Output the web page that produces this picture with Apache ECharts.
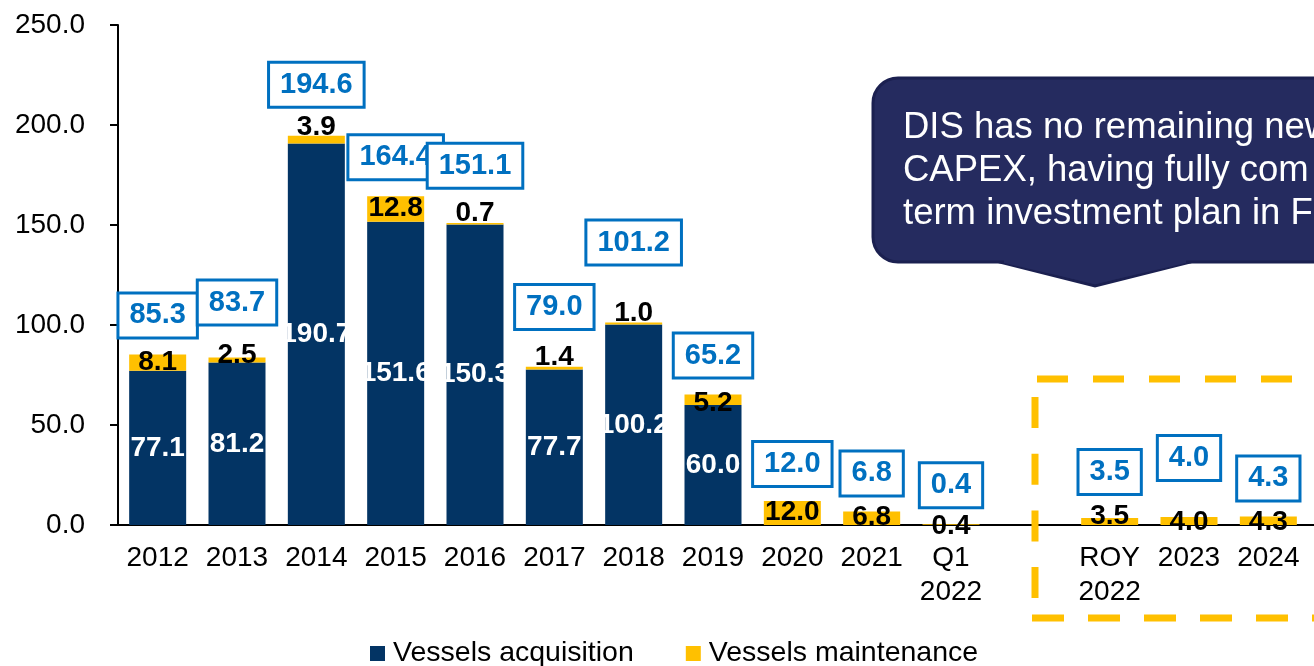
<!DOCTYPE html>
<html>
<head>
<meta charset="utf-8">
<script src="https://cdn.jsdelivr.net/npm/echarts@6/dist/echarts.min.js"></script>
<style>
  html, body { margin: 0; padding: 0; background: #fff; }
  #chart { width: 1314px; height: 666px; }
</style>
</head>
<body>
<div id="chart"></div>
<script>
// categories (one empty slot between actuals and the forecast box)
const categories = ['2012', '2013', '2014', '2015', '2016', '2017', '2018', '2019', '2020', '2021', 'Q1\n2022', '', 'ROY\n2022', '2023', '2024'];
const acquisition = [77.1, 81.2, 190.7, 151.6, 150.3, 77.7, 100.2, 60.0, 0, 0, 0, null, 0, 0, 0];
const maintenance = [8.1, 2.5, 3.9, 12.8, 0.7, 1.4, 1.0, 5.2, 12.0, 6.8, 0.4, null, 3.5, 4.0, 4.3];
const totals = [85.3, 83.7, 194.6, 164.4, 151.1, 79.0, 101.2, 65.2, 12.0, 6.8, 0.4, null, 3.5, 4.0, 4.3];
const yTicks = [0, 50, 100, 150, 200, 250];

// label nudges (px)
const maintShift = [0, -5, -12, -1, -10, -11, -10, 3, -1, -1, 2, 0, -5, 1, 1.5];
const totalShift = [-39, -55, -51, -39, -57, -60, -80, -39, -37, -38, -39, 0, -46, -59, -38];

const NAVY = '#033464';
const GOLD = '#FFC000';
const BLUE = '#0070C0';
const CALLOUT = '#252b5f';
const FONT = '"Liberation Sans", Arial, sans-serif';

const chart = echarts.init(document.getElementById('chart'));

chart.setOption({
  animation: false,
  textStyle: { fontFamily: FONT },
  grid: { left: 118, right: 6, top: 25, bottom: 141, containLabel: false },
  legend: {
    left: 365,
    top: 634,
    itemWidth: 15,
    itemHeight: 15,
    itemGap: 52,
    icon: 'rect',
    textStyle: { fontSize: 28.5, color: '#000', fontFamily: FONT, padding: [0, 0, 0, 3] },
    data: ['Vessels acquisition', 'Vessels maintenance']
  },
  xAxis: {
    type: 'category',
    data: categories,
    axisLine: { lineStyle: { color: '#000', width: 2 } },
    axisTick: { show: false },
    axisLabel: { fontSize: 28, lineHeight: 34, color: '#000', margin: 16, interval: 0, fontFamily: FONT }
  },
  yAxis: {
    type: 'value',
    min: yTicks[0],
    max: yTicks[yTicks.length - 1],
    interval: 50,
    splitLine: { show: false },
    axisLine: { show: true, lineStyle: { color: '#000', width: 2 } },
    axisTick: { show: true, length: 8, lineStyle: { color: '#000', width: 2 } },
    axisLabel: { fontSize: 28, color: '#000', margin: 33, fontFamily: FONT, formatter: v => v.toFixed(1) }
  },
  series: [
    {
      name: 'Vessels acquisition',
      type: 'bar',
      stack: 'capex',
      barWidth: 57,
      itemStyle: { color: NAVY },
      label: {
        show: true,
        position: 'inside',
        color: '#fff',
        fontSize: 28,
        fontWeight: 'bold',
        fontFamily: FONT,
        formatter: p => (p.value ? p.value.toFixed(1) : '')
      },
      data: acquisition.map(v => (v == null ? '-' : v))
    },
    {
      name: 'Vessels maintenance',
      type: 'bar',
      stack: 'capex',
      barWidth: 57,
      itemStyle: { color: GOLD },
      label: {
        show: true,
        position: 'inside',
        color: '#000',
        fontSize: 28,
        fontWeight: 'bold',
        fontFamily: FONT,
        formatter: p => (p.value != null ? Number(p.value).toFixed(1) : '')
      },
      data: maintenance.map((v, i) => (v == null ? '-' : { value: v, label: { offset: [0, maintShift[i]] } }))
    },
    {
      name: 'Total',
      type: 'scatter',
      symbolSize: 1,
      z: 5,
      itemStyle: { color: 'rgba(0,0,0,0)', opacity: 1 },
      label: {
        show: true,
        position: 'inside',
        color: BLUE,
        fontSize: 29,
        lineHeight: 30,
        fontWeight: 'bold',
        fontFamily: FONT,
        backgroundColor: '#fff',
        borderColor: BLUE,
        borderWidth: 3,
        padding: [7, 10, 5, 10],
        formatter: p => Number(p.value).toFixed(1)
      },
      data: totals.map((v, i) => (v == null ? '-' : { value: v, label: { offset: [0, totalShift[i]] } }))
    }
  ],
  graphic: [
    // x axis line runs on to the page edge
    { type: 'line', z: 1, shape: { x1: 1300, y1: 525, x2: 1314, y2: 525 }, style: { stroke: '#000', lineWidth: 2 } },
    // forecast box, dashed gold
    { type: 'line', z: 10, shape: { x1: 1037, y1: 379, x2: 1330, y2: 379 }, style: { stroke: GOLD, lineWidth: 7, lineDash: [31, 25] } },
    { type: 'line', z: 10, shape: { x1: 1035, y1: 397, x2: 1035, y2: 610 }, style: { stroke: GOLD, lineWidth: 7, lineDash: [31, 25.7] } },
    { type: 'line', z: 10, shape: { x1: 1032, y1: 618, x2: 1330, y2: 618 }, style: { stroke: GOLD, lineWidth: 7, lineDash: [32, 24] } },
    // callout: pointer, rounded box, then a patch hiding the box edge over the pointer base
    {
      type: 'polygon', z: 20,
      shape: { points: [[1000, 255], [1190, 255], [1190, 262], [1095, 286], [1000, 262]] },
      style: { fill: CALLOUT, stroke: '#1b2050', lineWidth: 3 }
    },
    {
      type: 'rect', z: 21,
      shape: { x: 873, y: 78, width: 480, height: 184, r: 25 },
      style: { fill: CALLOUT, stroke: '#1b2050', lineWidth: 3 }
    },
    {
      type: 'polygon', z: 22,
      shape: { points: [[1004, 255], [1186, 255], [1186, 263], [1095, 284], [1004, 263]] },
      style: { fill: CALLOUT }
    },
    {
      type: 'text',
      z: 23,
      x: 903,
      y: 106,
      style: {
        text: 'DIS has no remaining new\nCAPEX, having fully com\nterm investment plan in F',
        fill: '#fff',
        font: '36.5px ' + FONT,
        lineHeight: 43,
        verticalAlign: 'top'
      }
    }
  ]
});
</script>
</body>
</html>
